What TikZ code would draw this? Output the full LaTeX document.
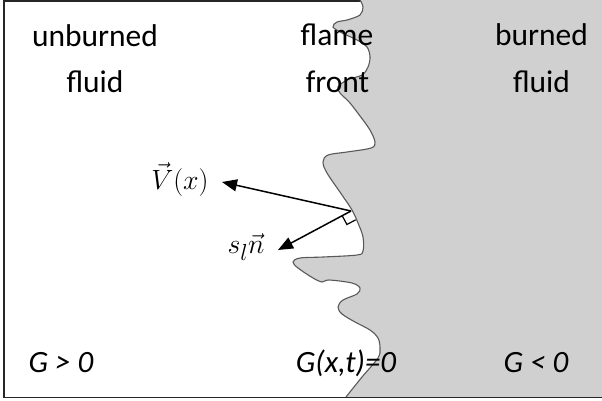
\documentclass[tikz,border=0pt]{standalone}
\usepackage{fontspec}
\setmainfont{Carlito}
\usetikzlibrary{arrows.meta}
\definecolor{burnt}{RGB}{208,208,208}
\tikzset{
  lbl/.style={font=\fontsize{31.5}{38}\selectfont, anchor=base, inner sep=0pt},
  glbl/.style={font=\fontsize{31}{37}\selectfont\itshape, anchor=base, inner sep=0pt},
  mlbl/.style={font=\fontsize{24.88}{30}\selectfont, inner sep=0pt},
  front/.style={line width=1.1pt, draw=black!65},
  vec/.style={line width=1.5pt, -{Triangle[length=15pt,width=12pt]}},
  frame/.style={line width=1.5pt, draw=black!85}
}
\begin{document}
\begin{tikzpicture}[x=1pt,y=-1pt]
\useasboundingbox (0,0) rectangle (602,400);
% frame (white side)
\draw[frame] (4,0.8) -- (602,0.8);
% burned region
\path[fill=burnt] plot[smooth, tension=0.55] coordinates {(360,0) (363,7) (360,15) (347,20) (337,22) (333,27) (342,33) (357,40) (367,47) (370,57) (368,67) (362,75) (347,80) (338,87) (340,93) (350,103) (363,120) (370,130) (375,142) (371,148) (347,152) (328,155) (323,162) (327,173) (342,195) (352,210) (358,223) (363,237) (363,251) (357,255) (323,257) (300,258) (293,262) (298,268) (313,278) (322,282) (329,280) (352,283) (360,288) (357,294) (343,300) (338,307) (342,314) (355,322) (370,330) (378,338) (380,348) (378,358) (362,377) (346,397)} -- (602,397) -- (602,0) -- cycle;
\draw[front] plot[smooth, tension=0.55] coordinates {(360,0) (363,7) (360,15) (347,20) (337,22) (333,27) (342,33) (357,40) (367,47) (370,57) (368,67) (362,75) (347,80) (338,87) (340,93) (350,103) (363,120) (370,130) (375,142) (371,148) (347,152) (328,155) (323,162) (327,173) (342,195) (352,210) (358,223) (363,237) (363,251) (357,255) (323,257) (300,258) (293,262) (298,268) (313,278) (322,282) (329,280) (352,283) (360,288) (357,294) (343,300) (338,307) (342,314) (355,322) (370,330) (378,338) (380,348) (378,358) (362,377) (346,397)};
\draw[frame] (4,0) -- (4,397.5) -- (602,397.5);
% labels
\node[lbl] (ub) at (95,46) {unburned};
\node[lbl] (uf) at (95,92) {fluid};
\node[lbl] (fl) at (337,45) {flame};
\node[lbl] (ff) at (337.5,92) {front};
\node[lbl] (bb) at (541.5,45) {burned};
\node[lbl] (bf) at (541.5,92) {fluid};
\node[glbl] (gp) at (61,372) {G > 0};
\node[glbl] (gz) at (346,372) {G(x,t)=0};
\node[glbl] (gn) at (536,372) {G < 0};
% vectors
\coordinate (O) at (351,211);
\coordinate (vt) at (222,182);
\coordinate (nt) at (278,250);
\draw[vec] (O) -- (vt);
\draw[vec] (O) -- (nt);
\coordinate (m1) at (342.2,215.7);
\coordinate (m2) at (346.9,224.5);
\coordinate (m3) at (355.7,219.8);
\draw[line width=1.2pt] (m1) -- (m2) -- (m3);
\node[mlbl] (vl) at (180,180) {\scalebox{1.12}{$\vec{V}(x)$}};
\node[mlbl] (nl) at (246,247) {\scalebox{1.12}{$s_l\vec{n}$}};
\end{tikzpicture}
\end{document}
